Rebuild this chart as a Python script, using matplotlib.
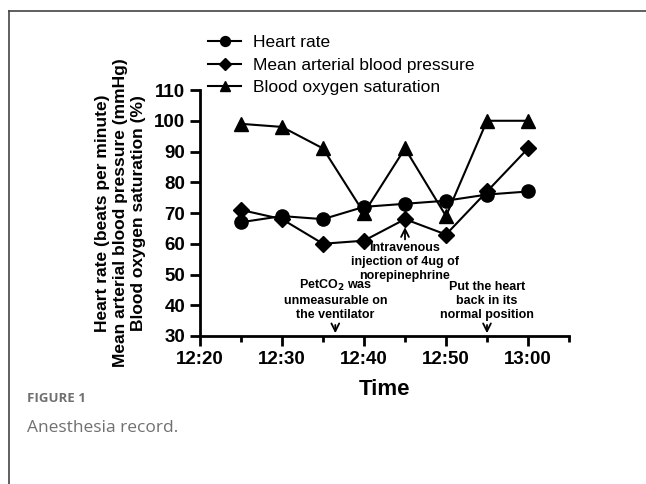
import matplotlib.pyplot as plt
from matplotlib.ticker import MultipleLocator, FuncFormatter
from matplotlib.lines import Line2D

# data
times = ["12:25", "12:30", "12:35", "12:40", "12:45", "12:50", "12:55", "13:00"]
heart_rate = [67, 69, 68, 72, 73, 74, 76, 77]
mean_bp = [71, 68, 60, 61, 68, 63, 77, 91]
spo2 = [99, 98, 91, 70, 91, 69, 100, 100]

events = [
    ("12:36.5", "PetCO$_\\mathbf{2}$ was\nunmeasurable on\nthe ventilator", "down"),
    ("12:45", "Intravenous\ninjection of 4ug of\nnorepinephrine", "up"),
    ("12:55", "Put the heart\nback in its\nnormal position", "down"),
]


def to_min(s):
    h, m = s.split(":")
    return int(h) * 60 + float(m)


x = [to_min(t) for t in times]

plt.rcParams["font.family"] = ["Liberation Sans", "DejaVu Sans"]

fig = plt.figure(figsize=(6.46, 4.84), dpi=100)
ax = fig.add_axes([0.3096, 0.3058, 0.5712, 0.5082])

kw = dict(color="black", lw=1.5, markersize=9.5)
ax.plot(x, heart_rate, marker="o", label="Heart rate", **kw)
ax.plot(x, mean_bp, marker="D", label="Mean arterial blood pressure",
        **dict(kw, markersize=8))
ax.plot(x, spo2, marker="^", label="Blood oxygen saturation", **kw)

ax.set_xlim(to_min("12:20"), to_min("13:05"))
ax.set_ylim(30, 110)
ax.xaxis.set_major_locator(MultipleLocator(10))
ax.xaxis.set_minor_locator(MultipleLocator(5))
ax.xaxis.set_major_formatter(
    FuncFormatter(lambda v, p: "%d:%02d" % (int(v) // 60, int(v) % 60)))
ax.yaxis.set_major_locator(MultipleLocator(10))

for side in ["top", "right"]:
    ax.spines[side].set_visible(False)
for side in ["left", "bottom"]:
    ax.spines[side].set_linewidth(2)
ax.tick_params(axis="both", which="major", width=2, length=7, labelsize=13.5)
ax.tick_params(axis="x", which="minor", width=2, length=4)
for lab in ax.get_xticklabels() + ax.get_yticklabels():
    lab.set_fontweight("bold")

ax.set_xlabel("Time", fontsize=16, fontweight="bold", labelpad=8)
ax.set_ylabel("Heart rate (beats per minute)\nMean arterial blood pressure (mmHg)\n"
              "Blood oxygen saturation (%)", fontsize=12.5, fontweight="bold",
              linespacing=1.25, labelpad=6)

# event annotations
arrow = dict(arrowstyle="->", color="black", lw=1.3, mutation_scale=14)
for t, txt, d in events:
    xv = to_min(t)
    if d == "down":
        ax.annotate("", xy=(xv, 30), xytext=(xv, 34.5), arrowprops=arrow)
        ax.text(xv, 35, txt, ha="center", va="bottom", fontsize=9,
                fontweight="bold", linespacing=1.2)
    else:
        ax.annotate("", xy=(xv, 66.3), xytext=(xv, 60.5), arrowprops=arrow)
        ax.text(xv, 60.6, txt, ha="center", va="top", fontsize=9,
                fontweight="bold", linespacing=1.2)

ax.legend(loc="upper left", bbox_to_anchor=(0.322, 0.927),
          bbox_transform=fig.transFigure, frameon=False, fontsize=12.5,
          handlelength=1.9, handletextpad=0.7, labelspacing=0.4,
          markerscale=0.75, borderpad=0, borderaxespad=0)

# page frame and caption
fig.add_artist(Line2D([9 / 646, 9 / 646], [0, 1 - 11 / 484],
                      color="#444444", lw=1.2))
fig.add_artist(Line2D([9 / 646, 1], [1 - 11 / 484, 1 - 11 / 484],
                      color="#444444", lw=1.2))
fig.text(27 / 646, 1 - 398 / 484, "FIGURE 1", fontsize=9.5, fontweight="bold",
         color="#707070", family=["Open Sans", "DejaVu Sans"], va="center")
fig.text(27 / 646, 1 - 428 / 484, "Anesthesia record.", fontsize=12.5,
         color="#707070", family=["Open Sans", "DejaVu Sans"], va="center")

fig.savefig("out.png", dpi=100)
